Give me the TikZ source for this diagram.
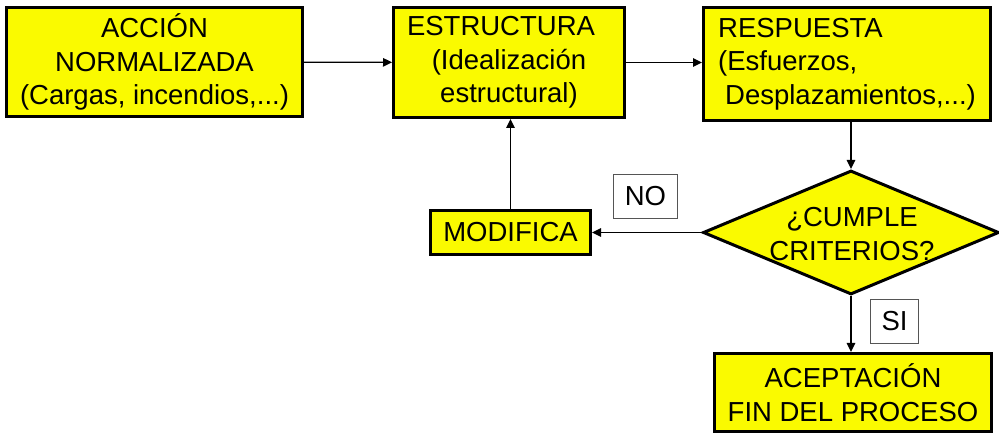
\documentclass[tikz,border=0pt]{standalone}
\usepackage{fontspec}
\setmainfont{Liberation Sans}
\usetikzlibrary{shapes.geometric,arrows.meta}
\definecolor{boxyellow}{RGB}{250,250,0}
\definecolor{tagline}{RGB}{85,85,85}
\begin{document}
\begin{tikzpicture}[x=1pt,y=-1pt,
  every node/.style={font=\fontsize{27.5}{33.5}\selectfont, inner sep=0pt},
  ybox/.style={draw=black, line width=3pt, fill=boxyellow, align=center},
  tagbox/.style={draw=tagline, line width=1.2pt, fill=white},
  ydia/.style={diamond, draw=black, line width=3pt, fill=boxyellow},
  conn/.style={line width=1.3pt, -{Triangle[length=9pt,width=8.5pt]}}
]
\useasboundingbox (0,0) rectangle (999,438);
\node[ybox, minimum width=296pt, minimum height=109pt] (accion) at (154.5,62)
  {ACCIÓN\\NORMALIZADA\\(Cargas, incendios,...)};
\node[ybox, minimum width=231pt, minimum height=110pt] (estr) at (509,62.5)
  {ESTRUCTURA\hspace*{16pt}\\(Idealización\\estructural)};
\node[ybox, align=left, minimum width=287pt, minimum height=113pt] (resp) at (847,64)
  {RESPUESTA\\(Esfuerzos,\\\hspace*{7pt}Desplazamientos,...)};
\node[ydia, minimum width=296pt, minimum height=124pt] (crit) at (851,232.5) {};
\node[align=center] (critt) at (852,234) {¿CUMPLE\\CRITERIOS?};
\node[ybox, minimum width=160pt, minimum height=44pt] (modif) at (510.5,232.5) {MODIFICA};
\node[tagbox, minimum width=64pt, minimum height=44pt] (no) at (645.5,196.5) {NO};
\node[tagbox, minimum width=48pt, minimum height=44pt] (si) at (894.5,321.5) {SI};
\node[ybox, minimum width=277pt, minimum height=78pt] (acept) at (853,392.5)
  {ACEPTACIÓN\\FIN DEL PROCESO};
\draw[conn] (accion) -- (estr);
\draw[conn] (estr.east) -- (estr.east -| resp.west);
\draw[conn] (crit.north |- resp.south) -- (crit.north);
\draw[conn] (crit.west) -- (crit.west -| modif.east);
\draw[conn] (modif.north) -- (modif.north |- estr.south);
\draw[conn] (crit.south) -- (crit.south |- acept.north);
\end{tikzpicture}
\end{document}
